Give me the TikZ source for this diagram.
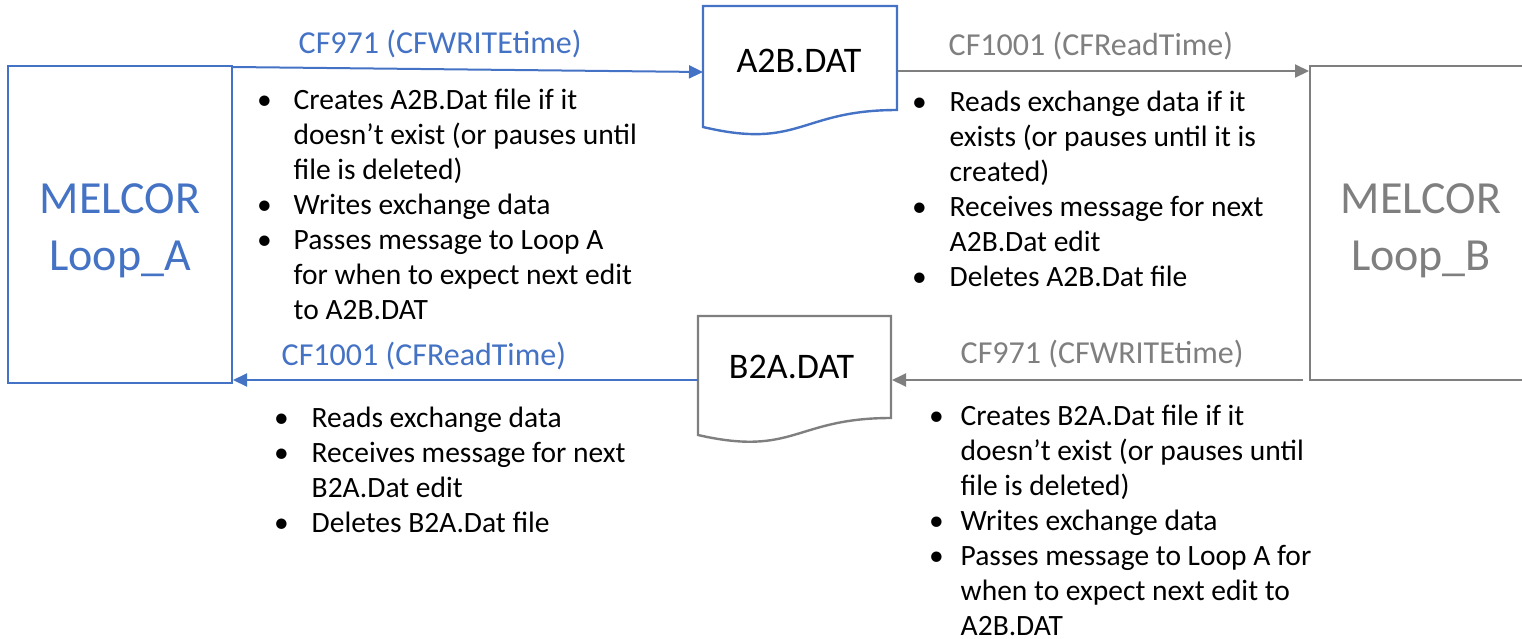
\documentclass[tikz,border=0pt]{standalone}
\usepackage{fontspec}
\setmainfont{Carlito}
\usetikzlibrary{arrows.meta}
\definecolor{cblue}{HTML}{4472C4}
\definecolor{cgray}{HTML}{7F7F7F}
\begin{document}
\begin{tikzpicture}[x=1pt,y=-1pt,
  loopbox/.style={draw, line width=2.6pt, inner sep=0pt},
  looptext/.style={anchor=base, inner sep=0pt, font=\fontsize{46}{57}\selectfont},
  docline/.style={line width=2.4pt, line join=miter},
  doctext/.style={anchor=base, inner sep=0pt, font=\fontsize{36}{43}\selectfont},
  flowlabel/.style={anchor=base west, inner sep=0pt, font=\fontsize{32}{38}\selectfont},
  bullets/.style={anchor=base west, inner sep=0pt, align=left, font=\fontsize{29.5}{35}\selectfont},
  conn/.style={line width=2pt, -{Triangle[length=14pt,width=13pt]}}
]
\useasboundingbox (0,0) rectangle (1522,638);

% Loop boxes
\node[loopbox, cblue, minimum width=224pt, minimum height=317pt] (loopA) at (120,224.5) {};
\node[looptext, text=cblue] (loopAt1) at (120,213) {MELCOR};
\node[looptext, text=cblue] (loopAt2) at (120,270) {Loop\_A};

\node[loopbox, cgray, minimum width=222pt, minimum height=314pt] (loopB) at (1421,223) {};
\node[looptext, text=cgray] (loopBt1) at (1421,213) {MELCOR};
\node[looptext, text=cgray] (loopBt2) at (1421,270) {Loop\_B};

% Document shapes
\draw[docline, cblue] (703,6) -- (897,6) -- (897,110)
  .. controls (800,110) and (800,150) .. (703,127) -- cycle;
\node[doctext] (a2b) at (799,72) {A2B.DAT};

\draw[docline, cgray] (698,316) -- (891,316) -- (891,418)
  .. controls (794.5,418) and (794.5,457) .. (698,435) -- cycle;
\node[doctext] (b2a) at (791.5,378) {B2A.DAT};

% connector end points
\coordinate (a2bIn) at (703,72);
\coordinate (a2bOut) at (898,71);
\coordinate (loopBIn) at (1309,71);
\coordinate (b2aOut) at (698,380);
\coordinate (loopAIn) at (233,380);
\coordinate (loopBOut) at (1303,380);
\coordinate (b2aIn) at (892,380);
\coordinate (loopAOut) at (233,67);

\draw[conn, cblue] (loopAOut) -- (a2bIn);
\draw[conn, cgray] (a2bOut) -- (loopBIn);
\draw[conn, cblue] (b2aOut) -- (loopAIn);
\draw[conn, cgray] (loopBOut) -- (b2aIn);

% flow labels
\node[flowlabel, text=cblue] (lab1) at (298.5,53) {CF971 (CFWRITEtime)};
\node[flowlabel, text=cgray] (lab2) at (948.5,55) {CF1001 (CFReadTime)};
\node[flowlabel, text=cblue] (lab3) at (281.5,365) {CF1001 (CFReadTime)};
\node[flowlabel, text=cgray] (lab4) at (960.5,363) {CF971 (CFWRITEtime)};

% bullet lists
\node[bullets] (list1) at (257,109) {\begin{tabular}[t]{@{}p{36.5pt}@{}l@{}}
•& Creates A2B.Dat file if it\\
 & doesn’t exist (or pauses until\\
 & file is deleted)\\
•& Writes exchange data\\
•& Passes message to Loop A\\
 & for when to expect next edit\\
 & to A2B.DAT
\end{tabular}};

\node[bullets] (list2) at (912,111) {\begin{tabular}[t]{@{}p{37.5pt}@{}l@{}}
•& Reads exchange data if it\\
 & exists (or pauses until it is\\
 & created)\\
•& Receives message for next\\
 & A2B.Dat edit\\
•& Deletes A2B.Dat file
\end{tabular}};

\node[bullets] (list3) at (274,427) {\begin{tabular}[t]{@{}p{37.5pt}@{}l@{}}
•& Reads exchange data\\
•& Receives message for next\\
 & B2A.Dat edit\\
•& Deletes B2A.Dat file
\end{tabular}};

\node[bullets] (list4) at (929,425) {\begin{tabular}[t]{@{}p{31.5pt}@{}l@{}}
•& Creates B2A.Dat file if it\\
 & doesn’t exist (or pauses until\\
 & file is deleted)\\
•& Writes exchange data\\
•& Passes message to Loop A for\\
 & when to expect next edit to\\
 & A2B.DAT
\end{tabular}};
\end{tikzpicture}
\end{document}
